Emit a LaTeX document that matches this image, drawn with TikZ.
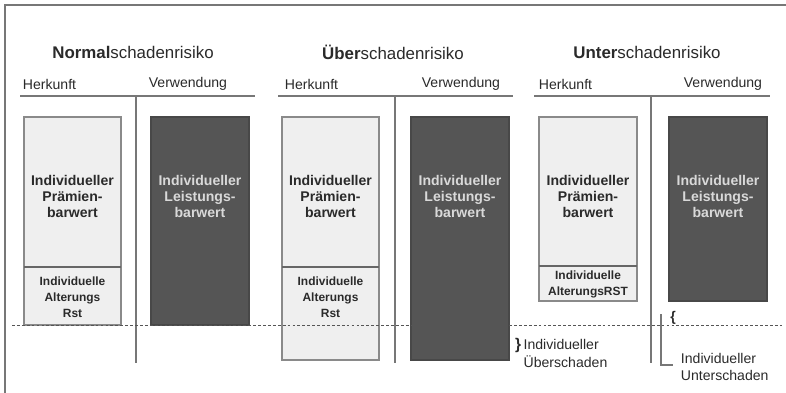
\documentclass[tikz,border=0pt]{standalone}
\usepackage{fontspec}
\setmainfont{Liberation Sans}
\usetikzlibrary{positioning}
\definecolor{hell}{HTML}{EFEFEF}
\definecolor{dunkel}{HTML}{555555}
\definecolor{rand}{HTML}{8A8A8A}
\definecolor{linie}{HTML}{777777}
\definecolor{schrift}{HTML}{2A2A2A}

\begin{document}
\begin{tikzpicture}[x=0.025cm,y=-0.025cm,
    titel/.style={text=schrift,font=\fontsize{12}{14}\selectfont},
    kopf/.style={text=schrift,font=\fontsize{10}{12}\selectfont},
    hellbox/.style={draw=rand,fill=hell,line width=0.9pt},
    dunkelbox/.style={draw=dunkel!85!black,fill=dunkel,line width=0.9pt},
    hellt/.style={align=center,text=schrift,font=\bfseries\fontsize{10}{11.4}\selectfont},
    dunkelt/.style={align=center,text=white!85!black,font=\bfseries\fontsize{10}{11.4}\selectfont},
    rstt/.style={align=center,text=schrift,font=\bfseries\fontsize{8.5}{11.2}\selectfont},
    trenn/.style={draw=linie,line width=0.9pt},
    notiz/.style={align=left,text=schrift,font=\fontsize{10}{12.2}\selectfont}
]
\useasboundingbox (0,0) rectangle (786,393);
\draw[linie,line width=1pt] (5,393) -- (5,5) -- (786,5);

% Normalschadenrisiko
\node[titel] (t1) at (133,52) {\textbf{Normal}schadenrisiko};
\node[kopf,anchor=west] (h1) at (18,84) {Herkunft};
\node[kopf,anchor=east] (v1) at (232,84) {Verwendung};
\draw[trenn] (20,96) -- (255,96); \draw[trenn] (136,96) -- (136,363);
\draw[hellbox] (24,117) rectangle (121,325); \draw[trenn,draw=dunkel!90] (24,267) -- (121,267);
\draw[dunkelbox] (151,117) rectangle (249,325);
\node[hellt] (p1) at (72.5,196.5) {Individueller\\Prämien-\\barwert};
\node[rstt] (r1) at (72.5,297) {Individuelle\\Alterungs\\Rst};
\node[dunkelt] (l1) at (200,196.5) {Individueller\\Leistungs-\\barwert};

% Ueberschadenrisiko
\node[titel] (t2) at (393,52) {\textbf{Über}schadenrisiko};
\node[kopf,anchor=west] (h2) at (280,84) {Herkunft};
\node[kopf,anchor=east] (v2) at (505,84) {Verwendung};
\draw[trenn] (278,96) -- (513,96); \draw[trenn] (395,96) -- (395,363);
\draw[hellbox] (282,117) rectangle (379,360); \draw[trenn,draw=dunkel!90] (282,267) -- (379,267);
\draw[dunkelbox] (411,117) rectangle (509,360);
\node[hellt] (p2) at (330.5,196.5) {Individueller\\Prämien-\\barwert};
\node[rstt] (r2) at (330.5,297) {Individuelle\\Alterungs\\Rst};
\node[dunkelt] (l2) at (460,196.5) {Individueller\\Leistungs-\\barwert};

% Unterschadenrisiko
\node[titel] (t3) at (647,52) {\textbf{Unter}schadenrisiko};
\node[kopf,anchor=west] (h3) at (534,84) {Herkunft};
\node[kopf,anchor=east] (v3) at (767,84) {Verwendung};
\draw[trenn] (534,96) -- (770,96); \draw[trenn] (651,96) -- (651,363);
\draw[hellbox] (539,117) rectangle (637,301); \draw[trenn,draw=dunkel!90] (539,266) -- (637,266);
\draw[dunkelbox] (669,117) rectangle (767,301);
\node[hellt] (p3) at (588,196.5) {Individueller\\Prämien-\\barwert};
\node[rstt] (r3) at (588,284.5) {Individuelle\\AlterungsRST};
\node[dunkelt] (l3) at (718,196.5) {Individueller\\Leistungs-\\barwert};

% Nulllinie
\draw[dunkel,line width=0.6pt,dash pattern=on 2pt off 1.5pt] (12,325) -- (782,325);

% Ueber- und Unterschaden
\node[notiz,anchor=north west,inner sep=1pt] (ueber) at (522,338) {Individueller\\Überschaden};
\node[font=\bfseries\fontsize{11}{11}\selectfont,text=schrift,inner sep=0pt] (ueberkl) at (518,345) {\}};
\node[font=\bfseries\fontsize{10}{10}\selectfont,text=schrift,inner sep=0pt] (unterkl) at (673,318) {\{};
\coordinate (ecke) at (661,365);
\node[notiz,anchor=north west] (unter) at (676,348) {Individueller\\Unterschaden};
\draw[trenn] (661,314) -- (ecke) -- (673,365);
\end{tikzpicture}
\end{document}
